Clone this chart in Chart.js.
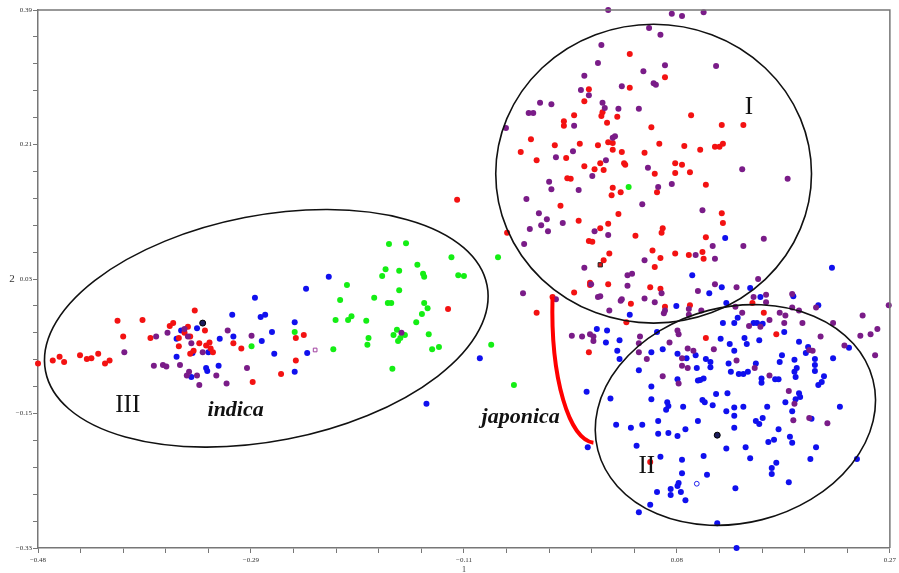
<!DOCTYPE html>
<html>
<head>
<meta charset="utf-8">
<script src="https://cdn.jsdelivr.net/npm/chart.js@4/dist/chart.umd.min.js"></script>
<style>
html, body { margin: 0; padding: 0; background: #fff; }
</style>
</head>
<body>
<canvas id="myChart" width="899" height="573"></canvas>
<script>
(function() {
const canvas = document.getElementById('myChart');
const context = canvas.getContext('2d');

// axis ranges and the printed tick labels
const xRange = [-0.48, 0.27];
const yRange = [-0.33, 0.39];
const xTickLabels = ['\u22120.48', '\u22120.29', '\u22120.11', '0.08', '0.27'];
const yTickLabels = ['\u22120.33', '\u22120.15', '0.03', '0.21', '0.39'];
const xAxisTitle = '1';
const yAxisTitle = '2';

// points, [axis 1, axis 2]
const redPoints = [
    [-0.480,-0.083],[-0.467,-0.079],[-0.461,-0.074],[-0.457,-0.081],[-0.443,-0.072],[-0.437,-0.077],[-0.433,-0.076],[-0.427,-0.070],[-0.421,-0.083],[-0.417,-0.079],
    [-0.410,-0.026],[-0.405,-0.047],[-0.388,-0.025],[-0.381,-0.049],[-0.364,-0.033],[-0.361,-0.029],[-0.356,-0.049],[-0.356,-0.060],[-0.351,-0.042],[-0.348,-0.034],
    [-0.346,-0.047],[-0.346,-0.070],[-0.343,-0.066],[-0.342,-0.012],[-0.333,-0.039],[-0.338,-0.056],[-0.332,-0.059],[-0.329,-0.055],[-0.328,-0.063],[-0.326,-0.068],
    [-0.308,-0.056],[-0.301,-0.063],[-0.291,-0.108],[-0.266,-0.097],[-0.253,-0.049],[-0.253,-0.079],[-0.246,-0.045],[-0.119,-0.010],[-0.111,0.136],[-0.067,0.092],
    [-0.041,-0.015],[-0.008,0.012],[0.005,-0.068],[-0.027,0.006],
    [0.041,0.331],[0.072,0.300],[0.041,0.286],[0.005,0.284],[0.001,0.268],[0.017,0.253],[0.016,0.248],[-0.008,0.249],[-0.017,0.241],[-0.017,0.235],
    [0.030,0.247],[0.021,0.239],[0.095,0.249],[0.060,0.233],[0.122,0.236],[0.141,0.236],[-0.046,0.217],[-0.025,0.209],[-0.003,0.211],[0.013,0.209],
    [0.022,0.213],[0.026,0.212],[0.026,0.203],[0.034,0.200],[0.067,0.211],[0.089,0.208],[0.103,0.203],[0.116,0.207],[0.120,0.207],[0.123,0.211],
    [-0.055,0.200],[-0.041,0.189],[-0.015,0.192],[0.001,0.181],[0.015,0.185],[0.010,0.177],[0.018,0.176],[0.036,0.185],[0.037,0.183],[0.054,0.199],
    [0.081,0.185],[0.087,0.183],[0.081,0.172],[0.094,0.173],[0.063,0.171],[-0.011,0.164],[-0.014,0.165],[0.065,0.146],[0.026,0.152],[0.025,0.142],
    [0.033,0.146],[0.108,0.156],[-0.020,0.128],[-0.004,0.108],[0.031,0.117],[0.022,0.104],[0.015,0.098],[0.070,0.098],[0.069,0.092],[0.046,0.088],
    [0.122,0.118],[0.123,0.105],[0.108,0.086],[0.005,0.081],[0.008,0.080],[0.061,0.068],[0.081,0.064],[0.068,0.058],[0.093,0.062],[0.105,0.066],
    [0.106,0.057],[0.023,0.064],[0.018,0.055],[0.063,0.046],[0.006,0.025],[0.006,0.022],[0.022,0.023],[0.059,0.019],[0.068,0.017],[0.042,-0.003],
    [0.072,-0.007],[0.094,-0.005],[0.038,-0.028],[0.149,-0.002],[0.159,-0.015],[0.108,-0.049],[0.170,-0.044],[0.059,-0.215]
];

const purplePoints = [
    [-0.404,-0.068],[-0.376,-0.047],[-0.378,-0.086],[-0.370,-0.085],[-0.367,-0.087],[-0.366,-0.042],[-0.351,-0.037],[-0.348,-0.047],[-0.345,-0.056],[-0.355,-0.085],
    [-0.347,-0.094],[-0.349,-0.099],[-0.340,-0.099],[-0.338,-0.112],[-0.335,-0.068],[-0.323,-0.099],[-0.314,-0.110],[-0.313,-0.039],[-0.296,-0.089],[-0.292,-0.046],
    [-0.160,-0.042],
    [-0.052,0.077],[-0.050,0.137],[-0.053,0.011],[-0.024,0.003],[-0.010,-0.046],[-0.001,-0.047],[0.006,-0.044],[0.009,-0.053],[0.009,-0.047],
    [-0.030,0.160],[-0.028,0.150],[-0.004,0.149],[-0.039,0.118],[-0.032,0.110],[-0.037,0.102],[-0.047,0.097],[-0.031,0.094],[-0.018,0.105],[0.010,0.094],
    [0.001,0.045],[0.013,0.006],[0.022,0.390],[0.078,0.385],[0.087,0.382],[0.106,0.387],[0.058,0.366],[0.068,0.357],[0.016,0.343],[0.013,0.319],
    [0.072,0.316],[0.117,0.315],[0.053,0.308],[0.001,0.302],[0.062,0.292],[0.064,0.290],[0.034,0.288],[-0.002,0.283],[0.005,0.276],[-0.038,0.266],
    [-0.028,0.264],[-0.048,0.252],[-0.044,0.252],[0.017,0.266],[0.019,0.259],[0.031,0.258],[0.049,0.258],[-0.008,0.235],[-0.068,0.232],[0.026,0.219],
    [0.028,0.221],[-0.009,0.201],[-0.024,0.193],[0.020,0.189],[0.057,0.179],[0.008,0.168],[0.140,0.177],[0.180,0.164],[0.066,0.153],[0.078,0.157],
    [0.052,0.130],[0.105,0.122],[0.159,0.084],[0.141,0.074],[0.114,0.074],[0.099,0.062],[0.116,0.057],[0.054,0.055],[0.022,0.089],[0.007,0.023],
    [0.039,0.035],[0.043,0.037],[0.039,0.021],[0.069,0.011],[0.015,0.007],[0.034,0.003],[0.054,0.004],[0.101,0.014],[0.116,0.023],[0.135,0.019],
    [0.154,0.030],[0.150,0.006],[0.161,0.009],[0.184,0.010],[0.033,0.001],[0.063,-0.001],[0.072,-0.012],[0.071,-0.016],[0.093,-0.010],[0.093,-0.018],
    [0.134,-0.007],[0.104,-0.012],[0.023,-0.012],[0.161,-0.001],[0.184,-0.008],[0.190,-0.012],[0.173,-0.015],[0.177,-0.029],[0.178,-0.019],[0.193,-0.029],
    [0.205,-0.008],[0.220,-0.029],[0.246,-0.019],[0.269,-0.005],[0.244,-0.046],[0.253,-0.044],[0.259,-0.037],[0.257,-0.072],[0.230,-0.059],[0.209,-0.047],
    [0.199,-0.065],[0.202,-0.066],[0.140,-0.015],[0.146,-0.033],[0.156,-0.034],[0.164,-0.025],[0.135,-0.079],[0.164,-0.099],[0.151,-0.089],[0.115,-0.064],
    [0.092,-0.063],[0.097,-0.066],[0.087,-0.076],[0.087,-0.086],[0.092,-0.089],[0.076,-0.055],[0.083,-0.039],[0.084,-0.044],[0.070,-0.100],[0.049,-0.056],
    [0.050,-0.047],[0.056,-0.077],[0.049,-0.068],[0.084,-0.110],[0.181,-0.120],[0.186,-0.137],[0.185,-0.159],[0.199,-0.156],[0.215,-0.163]
];

const bluePoints = [
    [-0.358,-0.050],[-0.354,-0.039],[-0.358,-0.074],[-0.344,-0.069],[-0.345,-0.101],[-0.340,-0.036],[-0.330,-0.068],[-0.332,-0.089],[-0.331,-0.093],[-0.321,-0.086],
    [-0.320,-0.050],[-0.309,-0.018],[-0.308,-0.047],[-0.289,0.005],[-0.284,-0.021],[-0.280,-0.018],[-0.283,-0.053],[-0.274,-0.041],[-0.272,-0.070],[-0.254,-0.028],
    [-0.254,-0.094],[-0.243,-0.069],[-0.244,0.017],[-0.224,0.033],[-0.091,-0.076],[-0.138,-0.137],
    [0.125,0.085],[0.096,0.035],[0.122,0.019],[0.111,0.011],[0.147,0.018],[0.156,0.006],[0.219,0.045],[0.185,0.007],[0.082,-0.006],[0.126,-0.002],
    [0.041,-0.018],[0.012,-0.037],[0.021,-0.039],[0.020,-0.055],[0.032,-0.052],[0.030,-0.066],[0.032,-0.077],[0.049,-0.092],[0.065,-0.041],[0.060,-0.068],
    [0.070,-0.064],[0.121,-0.050],[0.129,-0.057],[0.133,-0.066],[0.108,-0.077],[0.112,-0.081],[0.112,-0.088],[0.100,-0.089],[0.106,-0.103],[0.103,-0.105],
    [0.099,-0.072],[0.083,-0.070],[0.091,-0.076],[0.083,-0.104],[0.128,-0.083],[0.130,-0.094],[0.137,-0.097],[0.141,-0.097],[0.145,-0.094],[0.152,-0.083],
    [0.157,-0.103],[0.157,-0.109],[0.169,-0.104],[0.172,-0.104],[0.173,-0.081],[0.175,-0.072],[0.123,-0.029],[0.133,-0.029],[0.136,-0.022],[0.150,-0.029],
    [0.153,-0.029],[0.158,-0.030],[0.142,-0.049],[0.144,-0.057],[0.155,-0.052],[0.177,-0.041],[0.190,-0.054],[0.198,-0.061],[0.196,-0.069],[0.204,-0.077],
    [0.220,-0.076],[0.204,-0.085],[0.204,-0.093],[0.212,-0.100],[0.210,-0.108],[0.207,-0.112],[0.234,-0.062],[0.207,-0.005],[0.186,-0.078],[0.186,-0.094],
    [0.188,-0.089],[0.187,-0.101],[0.191,-0.128],[0.187,-0.131],[0.190,-0.123],[0.184,-0.147],[0.178,-0.135],[0.226,-0.141],[0.201,-0.157],[0.003,-0.121],
    [0.024,-0.130],[0.060,-0.114],[0.060,-0.131],[0.074,-0.135],[0.075,-0.140],[0.073,-0.145],[0.088,-0.141],[0.101,-0.106],[0.105,-0.132],[0.107,-0.135],
    [0.114,-0.139],[0.117,-0.124],[0.127,-0.123],[0.126,-0.147],[0.133,-0.142],[0.133,-0.153],[0.141,-0.141],[0.162,-0.141],[0.152,-0.160],[0.155,-0.164],
    [0.158,-0.156],[0.029,-0.165],[0.042,-0.169],[0.052,-0.165],[0.066,-0.160],[0.066,-0.177],[0.075,-0.176],[0.083,-0.180],[0.090,-0.171],[0.101,-0.160],
    [0.133,-0.169],[0.172,-0.171],[0.168,-0.185],[0.163,-0.188],[0.182,-0.181],[0.184,-0.189],[0.047,-0.193],[0.068,-0.208],[0.087,-0.212],[0.106,-0.207],
    [0.126,-0.197],[0.143,-0.195],[0.147,-0.210],[0.170,-0.216],[0.166,-0.223],[0.166,-0.231],[0.200,-0.211],[0.205,-0.195],[0.241,-0.211],[0.087,-0.230],
    [0.084,-0.243],[0.083,-0.247],[0.109,-0.232],[0.077,-0.251],[0.077,-0.259],[0.065,-0.255],[0.086,-0.255],[0.090,-0.266],[0.134,-0.250],[0.181,-0.242],
    [0.059,-0.272],[0.049,-0.282],[0.118,-0.297],[0.135,-0.330],[0.004,-0.195]
];

const greenPoints = [
    [-0.292,-0.060],[-0.254,-0.041],[-0.208,0.022],[-0.214,0.002],[-0.218,-0.025],[-0.207,-0.025],[-0.204,-0.020],[-0.220,-0.064],[-0.191,-0.026],[-0.189,-0.049],
    [-0.190,-0.058],[-0.184,0.005],[-0.177,0.034],[-0.174,0.043],[-0.171,0.077],[-0.156,0.078],[-0.162,0.041],[-0.162,0.015],[-0.172,-0.002],[-0.169,-0.002],
    [-0.146,0.049],[-0.141,0.037],[-0.140,0.033],[-0.140,-0.002],[-0.137,-0.009],[-0.142,-0.017],[-0.147,-0.028],[-0.164,-0.038],[-0.167,-0.045],[-0.157,-0.045],
    [-0.161,-0.049],[-0.163,-0.053],[-0.136,-0.044],[-0.133,-0.064],[-0.127,-0.061],[-0.168,-0.090],[-0.116,0.059],[-0.110,0.035],[-0.105,0.034],[-0.075,0.059],
    [-0.081,-0.058],[-0.061,-0.112],[0.040,0.153]
];

// odd single markers
const darkPoints = [[-0.335,-0.029],[0.118,-0.179]];
const squarePoints = [[0.015,0.049]];
const openSquarePoints = [[-0.236,-0.065]];
const openCirclePoints = [[0.100,-0.244]];

// group outlines: centre in data units, radii in data units along each axis, tilt in radians
const groupEllipses = [
    { cx: 0.062, cy: 0.171, rx: 0.139, ry: 0.200, rot: 0 },
    { cx: 0.134, cy: -0.152, rx: 0.125, ry: 0.1445, rot: -0.25 },
    { cx: -0.279, cy: -0.036, rx: 0.198, ry: 0.151, rot: -0.192 }
];
// japonica bracket: start, two control points, end
const japonicaCurve = [[-0.027,0.006],[-0.029,-0.105],[-0.012,-0.185],[0.009,-0.189]];

const romanLabels = [
    { text: 'I', x: 0.146, y: 0.251 },
    { text: 'II', x: 0.056, y: -0.230 },
    { text: 'III', x: -0.401, y: -0.148 }
];
const groupLabels = [
    { text: 'indica', x: -0.306, y: -0.153 },
    { text: 'japonica', x: -0.055, y: -0.163 }
];

function toXY(list) {
    return list.map(p => ({ x: p[0], y: p[1] }));
}

function tickList(range) {
    const step = (range[1] - range[0]) / 20;
    const out = [];
    for (let i = 0; i <= 20; i++) out.push({ value: range[0] + i * step });
    return out;
}

const serif = '"Liberation Serif", "DejaVu Serif", serif';

const overlay = {
    id: 'overlay',
    afterDatasetsDraw(chart) {
        const ctx = chart.ctx;
        const a = chart.chartArea;
        const xs = chart.scales.x, ys = chart.scales.y;
        ctx.save();

        // top and right sides of the box
        ctx.strokeStyle = '#777';
        ctx.lineWidth = 1.5;
        ctx.beginPath();
        ctx.moveTo(a.left, a.top);
        ctx.lineTo(a.right, a.top);
        ctx.lineTo(a.right, a.bottom);
        ctx.stroke();

        ctx.strokeStyle = '#111';
        ctx.lineWidth = 1.6;
        groupEllipses.forEach(e => {
            const cx = xs.getPixelForValue(e.cx), cy = ys.getPixelForValue(e.cy);
            const rx = Math.abs(xs.getPixelForValue(e.cx + e.rx) - cx);
            const ry = Math.abs(ys.getPixelForValue(e.cy + e.ry) - cy);
            ctx.beginPath();
            ctx.ellipse(cx, cy, rx, ry, e.rot, 0, Math.PI * 2);
            ctx.stroke();
        });

        const c = japonicaCurve.map(p => [xs.getPixelForValue(p[0]), ys.getPixelForValue(p[1])]);
        ctx.strokeStyle = '#ff0000';
        ctx.lineWidth = 4;
        ctx.lineCap = 'butt';
        ctx.beginPath();
        ctx.moveTo(c[0][0], c[0][1]);
        ctx.bezierCurveTo(c[1][0], c[1][1], c[2][0], c[2][1], c[3][0], c[3][1]);
        ctx.stroke();

        ctx.fillStyle = '#111';
        ctx.textAlign = 'center';
        ctx.textBaseline = 'alphabetic';
        ctx.font = '25px ' + serif;
        romanLabels.forEach(l => ctx.fillText(l.text, xs.getPixelForValue(l.x), ys.getPixelForValue(l.y)));
        ctx.font = 'italic bold 22px ' + serif;
        groupLabels.forEach(l => ctx.fillText(l.text, xs.getPixelForValue(l.x), ys.getPixelForValue(l.y)));

        // axis titles
        ctx.fillStyle = '#333';
        ctx.textBaseline = 'middle';
        ctx.font = '8px ' + serif;
        ctx.fillText(xAxisTitle, xs.getPixelForValue(-0.105), chart.height - 3);
        ctx.font = '11px ' + serif;
        ctx.fillText(yAxisTitle, 12, ys.getPixelForValue(0.03));
        ctx.restore();
    }
};

const axisFont = { family: serif, size: 7 };

const myChart = new Chart(context, {
    type: 'scatter',
    data: {
        datasets: [
            { label: 'purple', data: toXY(purplePoints), backgroundColor: '#7a1c88' },
            { label: 'red', data: toXY(redPoints), backgroundColor: '#f31212' },
            { label: 'blue', data: toXY(bluePoints), backgroundColor: '#1010ee' },
            { label: 'green', data: toXY(greenPoints), backgroundColor: '#14ee14' },
            { label: 'dark', data: toXY(darkPoints), backgroundColor: '#1c1c5c', borderColor: '#000', borderWidth: 1 },
            { label: 'square', data: toXY(squarePoints), pointStyle: 'rect', backgroundColor: '#e01010', borderColor: '#222', borderWidth: 1 },
            { label: 'open square', data: toXY(openSquarePoints), pointStyle: 'rect', backgroundColor: '#fff', borderColor: '#a040a0', borderWidth: 1, pointRadius: 2.6 },
            { label: 'open circle', data: toXY(openCirclePoints), backgroundColor: '#fff', borderColor: '#2020ee', borderWidth: 1, pointRadius: 2.4 }
        ]
    },
    options: {
        responsive: false,
        animation: false,
        layout: { padding: { top: 10, right: 8, left: 0, bottom: 0 } },
        plugins: { legend: { display: false }, tooltip: { enabled: false } },
        elements: { point: { radius: 3, borderWidth: 0 } },
        datasets: { scatter: { clip: false } },
        scales: {
            x: {
                type: 'linear',
                min: xRange[0],
                max: xRange[1],
                afterBuildTicks: s => { s.ticks = tickList(xRange); },
                afterFit: s => { s.height = 25; },
                grid: { drawOnChartArea: false, tickLength: 5, tickColor: '#777', tickWidth: 1 },
                border: { color: '#777', width: 1.5 },
                ticks: {
                    autoSkip: false, maxRotation: 0, padding: 3, font: axisFont, color: '#333',
                    callback: (v, i) => i % 5 === 0 ? xTickLabels[i / 5] : ''
                }
            },
            y: {
                type: 'linear',
                min: yRange[0],
                max: yRange[1],
                afterBuildTicks: s => { s.ticks = tickList(yRange); },
                afterFit: s => { s.width = 38; },
                grid: { drawOnChartArea: false, tickLength: 5, tickColor: '#777', tickWidth: 1 },
                border: { color: '#777', width: 1.5 },
                ticks: {
                    autoSkip: false, padding: 1, font: axisFont, color: '#333',
                    callback: (v, i) => i % 5 === 0 ? yTickLabels[i / 5] : ''
                }
            }
        }
    },
    plugins: [overlay]
});
})();
</script>
</body>
</html>
